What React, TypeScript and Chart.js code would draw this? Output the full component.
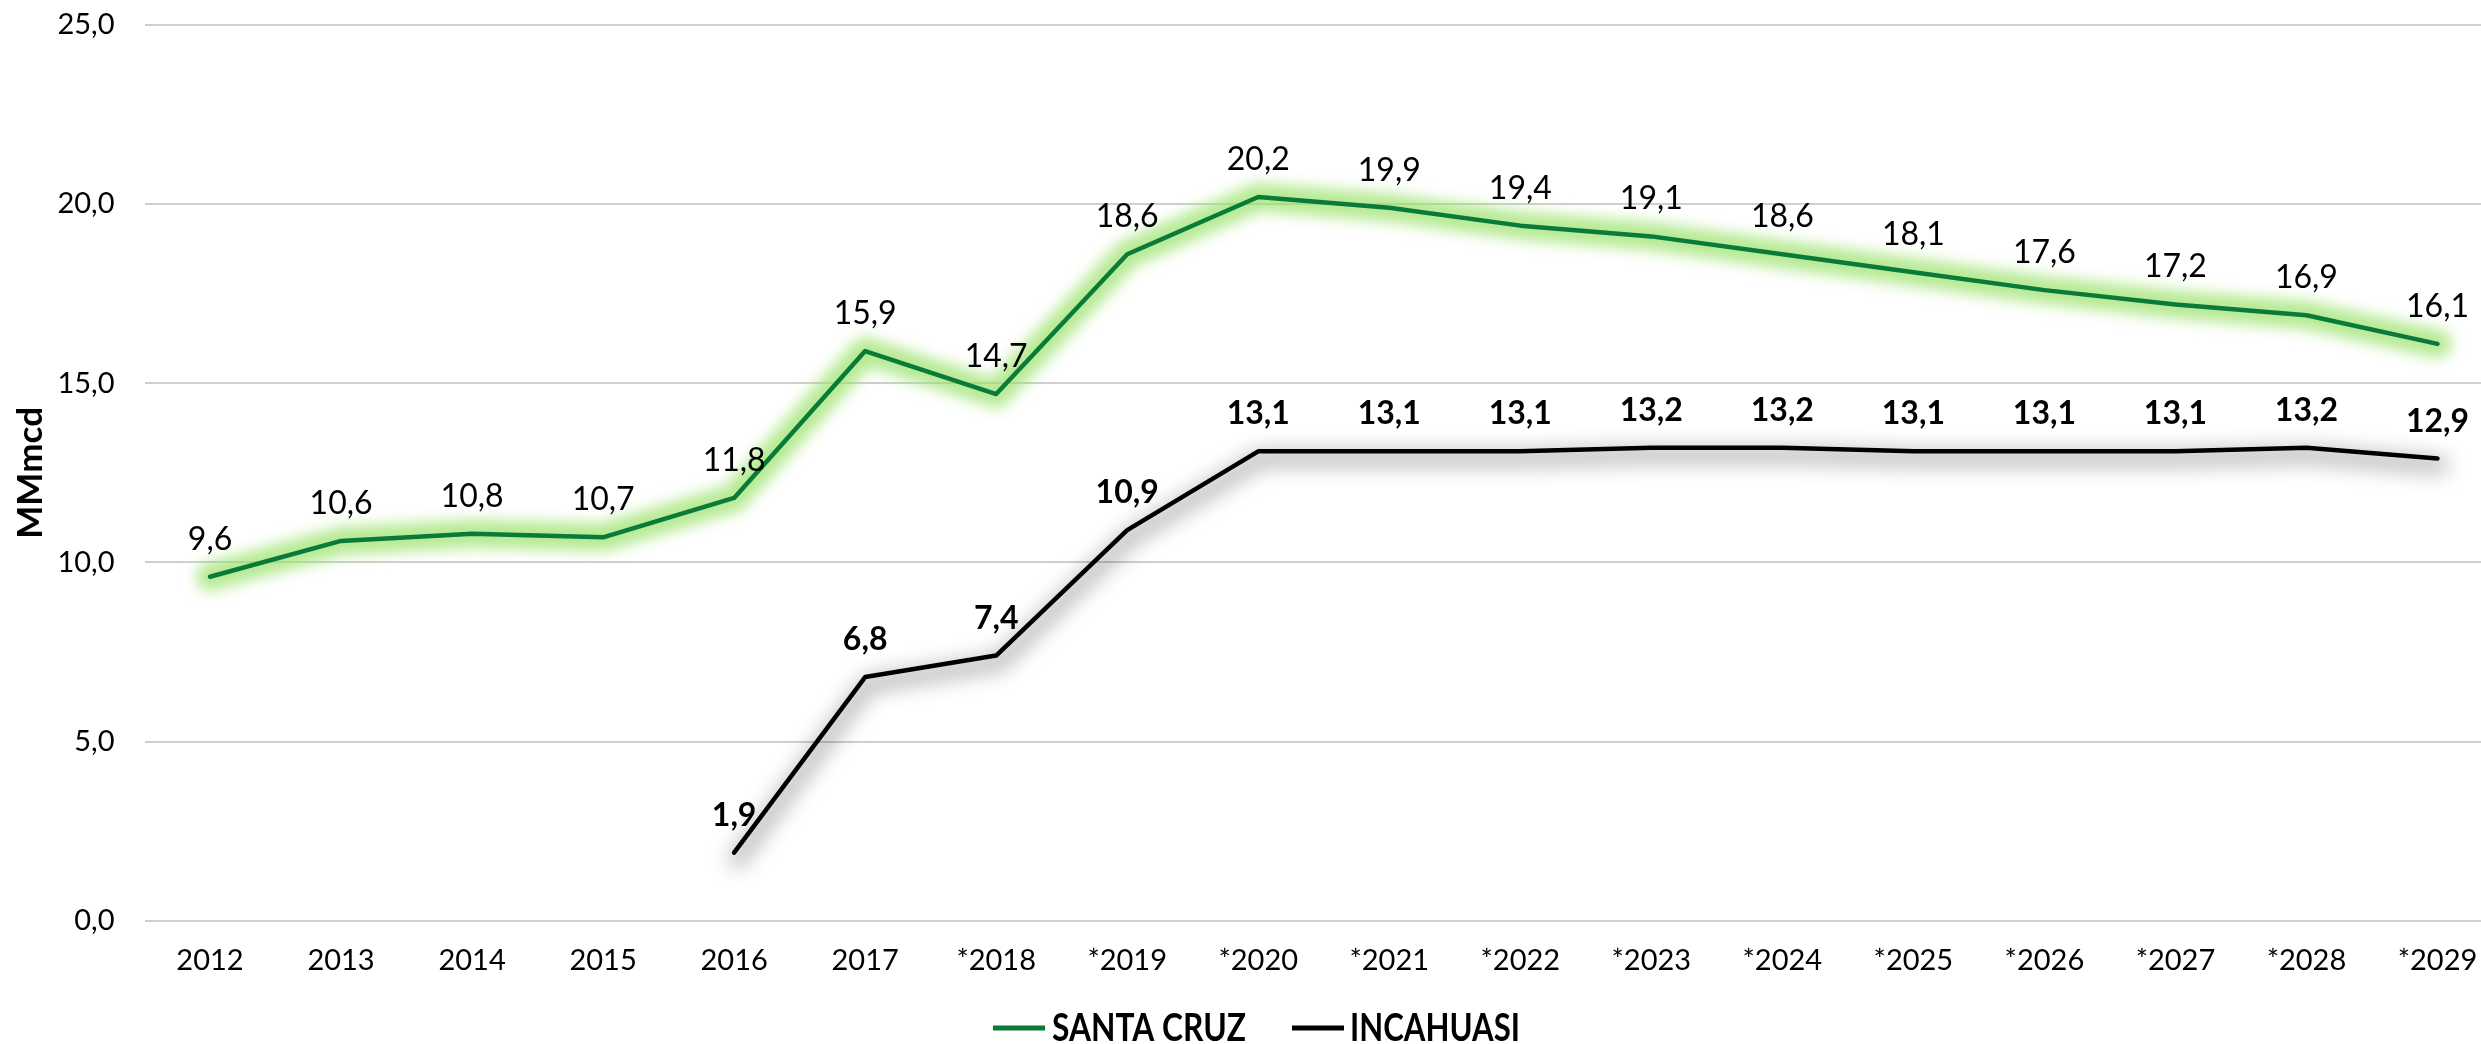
import React, { useEffect, useRef } from 'react';
import { Chart, registerables } from 'chart.js';

Chart.register(...registerables);

// ---- data ----
const categories = ['2012', '2013', '2014', '2015', '2016', '2017', '*2018', '*2019', '*2020', '*2021', '*2022', '*2023', '*2024', '*2025', '*2026', '*2027', '*2028', '*2029'];
const santaCruz = [9.6, 10.6, 10.8, 10.7, 11.8, 15.9, 14.7, 18.6, 20.2, 19.9, 19.4, 19.1, 18.6, 18.1, 17.6, 17.2, 16.9, 16.1];
const incahuasi = [null, null, null, null, 1.9, 6.8, 7.4, 10.9, 13.1, 13.1, 13.1, 13.2, 13.2, 13.1, 13.1, 13.1, 13.2, 12.9];
const seriesNames = ['SANTA CRUZ', 'INCAHUASI'];
const yAxisTitle = 'MMmcd';
const yMin = 0;
const yMax = 25;
const yStep = 5;

// ---- styles ----
const FONT = 'Lato, "Noto Sans", sans-serif';
const GREEN = '#0a7a38';
const BLACK = '#000000';
const CANVAS_W = 2503;
const CANVAS_H = 1044;

const fmt = (v: number) => v.toFixed(1).replace('.', ',');

const effectPlugin = {
  id: 'effects',
  beforeDatasetDraw(chart: any, args: any) {
    const ds = chart.data.datasets[args.index];
    if (!ds.effect) return;
    const ctx = chart.ctx;
    ctx.save();
    if (ds.effect === 'glow') {
      ctx.filter = 'blur(7px)';
    } else if (ds.effect === 'shadow') {
      ctx.translate(3, 7);
      ctx.filter = 'blur(10px)';
    }
  },
  afterDatasetDraw(chart: any, args: any) {
    const ds = chart.data.datasets[args.index];
    if (!ds.effect) return;
    chart.ctx.restore();
  },
};

const labelPlugin = {
  id: 'pointLabels',
  afterDatasetsDraw(chart: any) {
    const ctx = chart.ctx;
    ctx.save();
    ctx.textAlign = 'center';
    ctx.textBaseline = 'alphabetic';
    ctx.fillStyle = '#000';
    chart.data.datasets.forEach((ds: any, i: number) => {
      if (ds.effect) return;
      const meta = chart.getDatasetMeta(i);
      ctx.font = (ds.boldLabels ? 'bold ' : '') + '32px ' + FONT;
      meta.data.forEach((pt: any, j: number) => {
        const v = ds.data[j];
        if (v === null || v === undefined) return;
        ctx.fillText(fmt(v), pt.x, pt.y - 27);
      });
    });
    ctx.restore();
  },
};

const legendItems = [
  { lineX: 993, lineW: 52, textX: 1052, textW: 194 },
  { lineX: 1292, lineW: 52, textX: 1350, textW: 170 },
];
const LEGEND_LINE_Y = 1028;
const LEGEND_BASE_Y = 1041;

const legendPlugin = {
  id: 'customLegend',
  afterDraw(chart: any) {
    const ctx = chart.ctx;
    ctx.save();
    let k = 0;
    chart.data.datasets.forEach((ds: any) => {
      if (ds.effect) return;
      const it = legendItems[k++];
      ctx.strokeStyle = ds.borderColor;
      ctx.lineWidth = 5;
      ctx.lineCap = 'butt';
      ctx.beginPath();
      ctx.moveTo(it.lineX, LEGEND_LINE_Y);
      ctx.lineTo(it.lineX + it.lineW, LEGEND_LINE_Y);
      ctx.stroke();
      ctx.font = 'bold 38px ' + FONT;
      ctx.fillStyle = '#000';
      ctx.textBaseline = 'alphabetic';
      ctx.textAlign = 'left';
      const w = ctx.measureText(ds.label).width;
      const sx = it.textW / w;
      ctx.save();
      ctx.translate(it.textX, LEGEND_BASE_Y);
      ctx.scale(sx, 1);
      ctx.fillText(ds.label, 0, 0);
      ctx.restore();
    });
    ctx.restore();
  },
};

export default function App() {
  const ref = useRef<HTMLCanvasElement | null>(null);

  useEffect(() => {
    if (!ref.current) return;
    const common = { pointRadius: 0, tension: 0, fill: false, borderJoinStyle: 'round', borderCapStyle: 'round' };
    const chart = new Chart(ref.current, {
      type: 'line',
      data: {
        labels: categories,
        datasets: [
          {
            ...common,
            label: seriesNames[0],
            data: santaCruz,
            borderColor: GREEN,
            backgroundColor: GREEN,
            borderWidth: 4.5,
            order: 0,
          },
          {
            ...common,
            label: seriesNames[1],
            data: incahuasi,
            borderColor: BLACK,
            backgroundColor: BLACK,
            borderWidth: 4.5,
            boldLabels: true,
            order: 1,
          },
          {
            ...common,
            label: seriesNames[0] + ' glow',
            effect: 'glow',
            data: santaCruz,
            borderColor: 'rgba(150, 225, 100, 0.7)',
            borderWidth: 28,
            order: 2,
          },
          {
            ...common,
            label: seriesNames[1] + ' shadow',
            effect: 'shadow',
            data: incahuasi,
            borderColor: 'rgba(0, 0, 0, 0.28)',
            borderWidth: 16,
            order: 3,
          },
        ],
      },
      options: {
        responsive: false,
        animation: false,
        devicePixelRatio: 1,
        layout: { padding: { top: 25, left: 0, right: 0, bottom: 0 } },
        plugins: {
          legend: { display: false },
          tooltip: { enabled: false },
          title: { display: false },
        },
        scales: {
          x: {
            type: 'category',
            offset: true,
            grid: { display: false, drawTicks: false },
            border: { display: false },
            ticks: {
              color: '#000',
              font: { family: FONT, size: 29 },
              padding: 23,
              maxRotation: 0,
              autoSkip: false,
            },
            afterFit(scale: any) {
              scale.height = 123.3;
              scale.paddingLeft = 0;
              scale.paddingRight = 0;
            },
          },
          y: {
            min: yMin,
            max: yMax,
            grid: { color: '#cfcfcf', lineWidth: 2, drawTicks: false },
            border: { display: false },
            ticks: {
              stepSize: yStep,
              color: '#000',
              font: { family: FONT, size: 29 },
              padding: 30,
              callback: (v: any) => fmt(Number(v)),
            },
            title: {
              display: true,
              text: yAxisTitle,
              color: '#000',
              font: { family: FONT, size: 35, weight: 'bold' },
              padding: { top: 10, bottom: 0 },
            },
            afterFit(scale: any) {
              scale.width = 144.5;
              scale.paddingTop = 0;
              scale.paddingBottom = 0;
            },
          },
        },
      },
      plugins: [effectPlugin, labelPlugin, legendPlugin],
    } as any);
    return () => chart.destroy();
  }, []);

  return (
    <div style={{ position: 'absolute', left: 0, top: 0, width: 2481, height: 1044, overflow: 'hidden', background: '#fff' }}>
      <canvas ref={ref} width={CANVAS_W} height={CANVAS_H} style={{ width: CANVAS_W, height: CANVAS_H, display: 'block' }} />
    </div>
  );
}
